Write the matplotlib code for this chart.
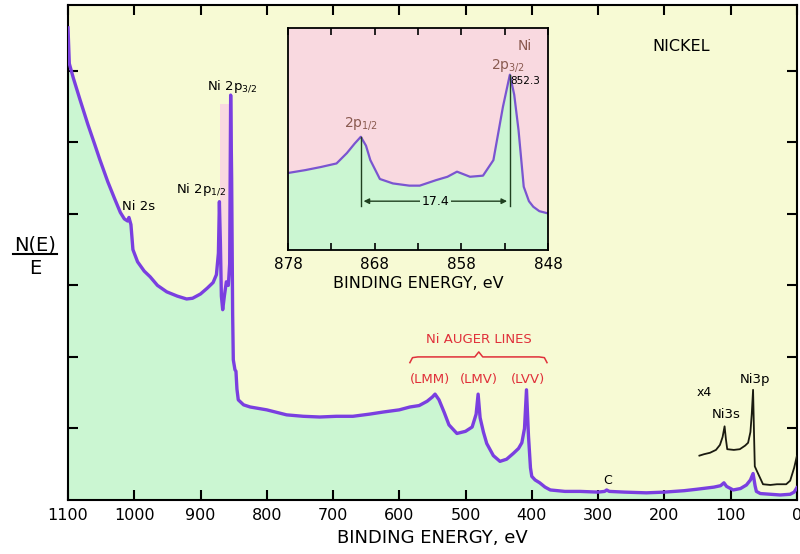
import numpy as np
import matplotlib
matplotlib.use("Agg")
import matplotlib.pyplot as plt

# survey spectrum (binding energy in eV, N(E)/E in tick units)
survey_ev = [1100, 1098, 1092, 1082, 1070, 1060, 1052, 1040, 1030, 1021, 1015, 1010, 1008, 1005,
             1002, 995, 985, 976, 965, 951, 935, 921, 912, 900, 890, 881, 876, 873, 871.5, 870,
             868.5, 866.5, 864, 861, 858, 856, 854.5, 853, 851.5, 850.5, 848, 846.5, 845, 843,
             835, 825, 800, 770, 745, 720, 695, 670, 645, 624, 600, 584, 570, 558, 550, 546,
             540, 532, 525, 513, 500, 490, 484, 481, 478, 473, 468, 458, 448, 438, 428, 420,
             415, 411, 408, 405, 402, 400, 395, 388, 380, 372, 350, 327, 300, 290, 287, 283,
             260, 227, 200, 170, 151, 125, 115, 110, 106, 96, 85, 76, 70, 66, 63, 61, 55, 40,
             25, 10, 4, 0]
survey_y = [6.6, 6.1, 5.9, 5.6, 5.25, 4.98, 4.76, 4.45, 4.22, 4.02, 3.93, 3.90, 3.95, 3.85,
            3.50, 3.33, 3.20, 3.12, 3.00, 2.91, 2.85, 2.81, 2.82, 2.88, 2.96, 3.04, 3.15, 3.45, 4.17, 3.6,
            2.85, 2.66, 2.85, 3.05, 3.0, 3.3, 5.66, 4.5, 2.6, 1.96, 1.82, 1.80, 1.55, 1.40,
            1.33, 1.30, 1.26, 1.19, 1.17, 1.16, 1.17, 1.17, 1.20, 1.23, 1.26, 1.30, 1.32, 1.38, 1.44, 1.48,
            1.40, 1.22, 1.05, 0.93, 0.96, 1.02, 1.20, 1.48, 1.15, 0.95, 0.79, 0.62, 0.54, 0.57, 0.65, 0.72,
            0.80, 1.0, 1.54, 0.9, 0.45, 0.33, 0.28, 0.24, 0.18, 0.14, 0.12, 0.12, 0.11, 0.12, 0.14, 0.12,
            0.11, 0.10, 0.11, 0.13, 0.15, 0.18, 0.20, 0.24, 0.19, 0.14, 0.16, 0.21, 0.28, 0.37, 0.20, 0.12, 0.09, 0.08,
            0.07, 0.08, 0.11, 0.17]

# x4 expanded low energy region
x4_ev = [147, 140, 131, 122, 116, 112, 109, 107, 105, 95, 86, 78, 73.5, 70, 68, 66, 64.5,
         63.4, 60, 55, 51, 40, 30, 16, 10, 8, 4, 0]
x4_y = [0.62, 0.64, 0.66, 0.70, 0.77, 0.88, 1.03, 0.85, 0.71, 0.70, 0.71, 0.76, 0.80, 0.95, 1.20, 1.54, 0.9,
        0.47, 0.40, 0.30, 0.22, 0.21, 0.22, 0.22, 0.27, 0.33, 0.45, 0.61]

# Ni 2p detail (inset)
detail_ev = [878, 876, 874.2, 872.4, 871.2, 870.3, 869.6, 869, 868.5, 867.4, 865.9, 864, 862.8,
             860.9, 859.6, 858.5, 857, 855.5, 854.3, 853.2, 852.4, 851.9, 851.4, 850.8, 850.2,
             849.7, 849, 848]
detail_y = [0.347, 0.36, 0.374, 0.39, 0.437, 0.48, 0.51, 0.47, 0.405, 0.32, 0.30, 0.29, 0.29,
            0.315, 0.33, 0.353, 0.33, 0.335, 0.405, 0.645, 0.79, 0.70, 0.54, 0.285, 0.22,
            0.195, 0.175, 0.165]

main_ticks = [1100, 1000, 900, 800, 700, 600, 500, 400, 300, 200, 100, 0]
main_ticklabels = ["1100", "1000", "900", "800", "700", "600", "500", "400", "300", "200", "100", "0"]
inset_ticks = [878, 873, 868, 863, 858, 853, 848]
inset_ticklabels = ["878", "", "868", "", "858", "", "848"]

YELLOW = "#f7fad4"
GREEN = "#cbf6d2"
PINK = "#f9d9e0"
PURPLE = "#7a3fe0"

fig = plt.figure(figsize=(8, 5.54), dpi=100)
ax = fig.add_axes([0.085, 0.0975, 0.911, 0.8935])
ax.set_facecolor(YELLOW)
ax.set_xlim(1100, 0)
ax.set_ylim(0, 6.92)

# faint pink between the two 2p lines (same window as the inset)
ax.axvspan(871, 854.5, ymax=0.8, color=PINK, zorder=0.5, lw=0)
ax.fill_between(survey_ev, survey_y, 0, color=GREEN, lw=0, zorder=1)
ax.plot(survey_ev, survey_y, color=PURPLE, lw=2.4, zorder=3, solid_joinstyle="round")
ax.plot(x4_ev, x4_y, color="#1a1a10", lw=1.3, zorder=3)

ax.set_xticks(main_ticks)
ax.set_xticklabels(main_ticklabels)
ax.set_yticks([1, 2, 3, 4, 5, 6])
ax.set_yticklabels([])
ax.tick_params(direction="in", length=7, width=1.5, top=True, right=True,
               labelsize=11.5, pad=6)
for s in ax.spines.values():
    s.set_linewidth(1.5)
ax.set_xlabel("BINDING ENERGY, eV", fontsize=13, labelpad=4)

# peak labels
ax.text(994, 4.1, "Ni 2s", fontsize=9.5, ha="center", va="center")
ax.text(899, 4.34, "Ni 2p$_{1/2}$", fontsize=9.5, ha="center", va="center")
ax.text(852, 5.78, "Ni 2p$_{3/2}$", fontsize=9.5, ha="center", va="center")
ax.text(175, 6.34, "NICKEL", fontsize=11.5, ha="center", va="center")
ax.text(286, 0.27, "C", fontsize=9, ha="center", va="center")
ax.text(140, 1.5, "x4", fontsize=9, ha="center", va="center")
ax.text(106, 1.19, "Ni3s", fontsize=9.5, ha="center", va="center")
ax.text(63, 1.68, "Ni3p", fontsize=9.5, ha="center", va="center")

# Auger group with brace
red = "#e0303a"
ax.text(480, 2.24, "Ni AUGER LINES", fontsize=9.5, color=red, ha="center", va="center")
for ev, lab in zip([554, 480, 406], ["(LMM)", "(LMV)", "(LVV)"]):
    ax.text(ev, 1.69, lab, fontsize=9.5, color=red, ha="center", va="center")
b_left, b_right, b_mid, b_y = 584, 377, 480, 2.0
ax.plot([b_left, b_left - 4, b_left - 12, b_mid + 6, b_mid, b_mid - 6, b_right + 12, b_right + 4, b_right],
        [b_y - 0.08, b_y - 0.01, b_y, b_y, b_y + 0.07, b_y, b_y, b_y - 0.01, b_y - 0.08],
        color=red, lw=1.1)

# y label N(E)/E
fig.text(0.044, 0.558, "N(E)", fontsize=14, ha="center", va="center")
fig.text(0.044, 0.516, "E", fontsize=14, ha="center", va="center")
fig.add_artist(plt.Line2D([0.016, 0.071], [0.5415, 0.5415], color="black", lw=1.5,
                          transform=fig.transFigure))

# inset
ins = fig.add_axes([0.36, 0.5487, 0.325, 0.4007])
ins.set_facecolor(PINK)
ins.set_xlim(878, 848)
ins.set_ylim(0, 1)
ins.fill_between(detail_ev, detail_y, 0, color=GREEN, lw=0)
ins.plot(detail_ev, detail_y, color="#7a55d0", lw=1.6)
ins.set_xticks(inset_ticks)
ins.set_xticklabels(inset_ticklabels)
ins.set_yticks([])
ins.tick_params(direction="in", length=5, width=1.2, top=True, labelsize=11, pad=5)
for s in ins.spines.values():
    s.set_linewidth(1.3)
ins.set_xlabel("BINDING ENERGY, eV", fontsize=11.5, labelpad=3)

p1, p3 = 869.6, 852.4
ins.plot([p1, p1], [0.51, 0.2], color="#204020", lw=1)
ins.plot([p3, p3], [0.79, 0.2], color="#204020", lw=1)
ins.annotate("", xy=(p1, 0.22), xytext=(p3, 0.22),
             arrowprops=dict(arrowstyle="<|-|>", color="#204020", lw=1, mutation_scale=8))
ins.text(861, 0.22, "17.4", fontsize=9, ha="center", va="center",
         bbox=dict(facecolor=GREEN, edgecolor="none", pad=1))
brown = "#8a5a50"
ins.text(p1, 0.57, "2p$_{1/2}$", fontsize=10, color=brown, ha="center", va="center")
ins.text(852.6, 0.83, "2p$_{3/2}$", fontsize=10, color=brown, ha="center", va="center")
ins.text(850.7, 0.92, "Ni", fontsize=10, color=brown, ha="center", va="center")
ins.text(850.6, 0.76, "852.3", fontsize=7.5, ha="center", va="center")

fig.savefig("out.png", dpi=100)
